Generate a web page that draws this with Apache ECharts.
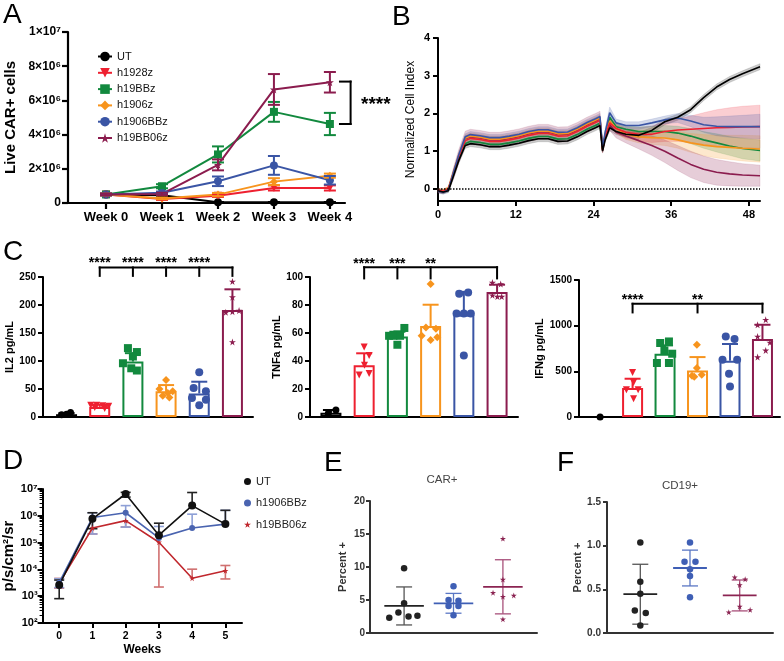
<!DOCTYPE html>
<html>
<head>
<meta charset="utf-8">
<title>CAR T cell figure</title>
<script src="https://cdn.jsdelivr.net/npm/echarts@6/dist/echarts.min.js"></script>
<style>
  html, body { margin: 0; background: #fff; }
  #fig { width: 784px; height: 661px; }
</style>
</head>
<body>
<div id="fig"></div>
<script>
const FONT = '"Liberation Sans", Arial, sans-serif';
const STAR = 'path://M50,0 L61,35 L98,35 L68,57 L79,91 L50,70 L21,91 L32,57 L2,35 L39,35 Z';

// groups (A, B, C)
const groupNames = ['UT', 'h1928z', 'h19BBz', 'h1906z', 'h1906BBz', 'h19BB06z'];
const groupColors = ['#000000', '#ee2030', '#12893e', '#f7941d', '#3a55a5', '#8b1c4e'];
const groupSymbols = ['circle', 'triangle', 'rect', 'diamond', 'circle', STAR];
const groupRotate = [0, 180, 0, 0, 0, 0];

// A: live CAR+ cells per week
const weeksA = [0, 1, 2, 3, 4];
const weekLabelsA = ['Week 0', 'Week 1', 'Week 2', 'Week 3', 'Week 4'];
const liveUT = [0.5e6, 0.45e6, 0.04e6, 0.04e6, 0.04e6];
const live1928z = [0.5e6, 0.23e6, 0.43e6, 0.88e6, 0.88e6];
const live19BBz = [0.5e6, 0.98e6, 2.84e6, 5.33e6, 4.62e6];
const live1906z = [0.5e6, 0.27e6, 0.49e6, 1.25e6, 1.6e6];
const live1906BBz = [0.5e6, 0.6e6, 1.27e6, 2.2e6, 1.33e6];
const live19BB06z = [0.5e6, 0.53e6, 2.23e6, 6.64e6, 7.06e6];
const sdUT = [0.03e6, 0.03e6, 0.02e6, 0.02e6, 0.02e6];
const sd1928z = [0.05e6, 0.05e6, 0.08e6, 0.15e6, 0.15e6];
const sd19BBz = [0.05e6, 0.12e6, 0.47e6, 0.58e6, 0.65e6];
const sd1906z = [0.05e6, 0.05e6, 0.1e6, 0.2e6, 0.12e6];
const sd1906BBz = [0.05e6, 0.07e6, 0.28e6, 0.55e6, 0.25e6];
const sd19BB06z = [0.05e6, 0.07e6, 0.32e6, 0.9e6, 0.6e6];
const liveMeans = [liveUT, live1928z, live19BBz, live1906z, live1906BBz, live19BB06z];
const liveSds = [sdUT, sd1928z, sd19BBz, sd1906z, sd1906BBz, sd19BB06z];

// B: normalized cell index over time (hours)
const hoursB = [0, 0.8, 1.6, 2.4, 3.2, 4.2, 5, 6.5, 8, 9.5, 11, 12.5, 14, 15.5, 17, 18.5, 20, 21.5, 23, 24.3, 25, 25.4, 25.8, 26.5, 27.5, 29, 31, 33, 35, 37, 39, 41, 43, 45, 47, 49.7];
const ciUT = [-0.05, -0.08, -0.05, 0.35, 0.75, 1.15, 1.2, 1.17, 1.12, 1.12, 1.16, 1.21, 1.28, 1.33, 1.33, 1.26, 1.27, 1.38, 1.52, 1.62, 1.68, 1.0, 1.3, 1.62, 1.52, 1.45, 1.42, 1.55, 1.78, 1.9, 2.1, 2.42, 2.7, 2.9, 3.05, 3.24];
const ci1928z = [-0.03, -0.06, 0, 0.42, 0.85, 1.28, 1.34, 1.31, 1.26, 1.26, 1.3, 1.35, 1.42, 1.47, 1.47, 1.4, 1.41, 1.52, 1.66, 1.76, 1.82, 1.02, 1.38, 1.75, 1.6, 1.5, 1.45, 1.45, 1.52, 1.56, 1.58, 1.6, 1.62, 1.63, 1.64, 1.65];
const ci19BBz = [-0.04, -0.07, -0.02, 0.4, 0.8, 1.2, 1.26, 1.23, 1.18, 1.18, 1.22, 1.27, 1.34, 1.39, 1.39, 1.32, 1.33, 1.44, 1.58, 1.68, 1.74, 1.05, 1.4, 1.9, 1.65, 1.58, 1.52, 1.52, 1.52, 1.48, 1.4, 1.3, 1.22, 1.14, 1.07, 1.02];
const ci1906z = [-0.04, -0.05, 0.02, 0.45, 0.88, 1.34, 1.4, 1.37, 1.32, 1.32, 1.36, 1.41, 1.48, 1.53, 1.53, 1.46, 1.47, 1.58, 1.72, 1.82, 1.88, 1.05, 1.42, 1.8, 1.6, 1.45, 1.38, 1.36, 1.35, 1.3, 1.22, 1.16, 1.12, 1.1, 1.08, 1.06];
const ci1906BBz = [-0.06, -0.09, -0.03, 0.44, 0.9, 1.38, 1.44, 1.41, 1.36, 1.36, 1.4, 1.45, 1.52, 1.57, 1.57, 1.5, 1.51, 1.62, 1.76, 1.86, 1.92, 1.1, 1.5, 2.02, 1.75, 1.68, 1.68, 1.75, 1.83, 1.88, 1.8, 1.7, 1.66, 1.65, 1.65, 1.65];
const ci19BB06z = [-0.05, -0.07, -0.01, 0.42, 0.86, 1.33, 1.38, 1.35, 1.3, 1.3, 1.34, 1.39, 1.46, 1.51, 1.51, 1.44, 1.45, 1.56, 1.7, 1.8, 1.86, 1.05, 1.4, 1.7, 1.5, 1.4, 1.28, 1.15, 1.0, 0.82, 0.65, 0.52, 0.44, 0.4, 0.37, 0.35];
const ciUTsd = [0.05, 0.05, 0.05, 0.08, 0.08, 0.08, 0.08, 0.08, 0.08, 0.08, 0.08, 0.08, 0.08, 0.08, 0.08, 0.08, 0.08, 0.08, 0.08, 0.08, 0.08, 0.05, 0.06, 0.08, 0.08, 0.08, 0.08, 0.08, 0.08, 0.08, 0.08, 0.08, 0.08, 0.08, 0.08, 0.08];
const ci1928zsd = [0.05, 0.05, 0.05, 0.08, 0.08, 0.08, 0.08, 0.08, 0.08, 0.08, 0.08, 0.08, 0.08, 0.08, 0.08, 0.08, 0.08, 0.08, 0.08, 0.08, 0.08, 0.06, 0.08, 0.1, 0.12, 0.15, 0.18, 0.22, 0.26, 0.3, 0.35, 0.42, 0.48, 0.52, 0.55, 0.57];
const ci19BBzsd = [0.05, 0.05, 0.05, 0.07, 0.07, 0.07, 0.07, 0.07, 0.07, 0.07, 0.07, 0.07, 0.07, 0.07, 0.07, 0.07, 0.07, 0.07, 0.07, 0.07, 0.07, 0.05, 0.08, 0.1, 0.1, 0.1, 0.12, 0.14, 0.16, 0.18, 0.2, 0.22, 0.24, 0.25, 0.27, 0.28];
const ci1906zsd = [0.05, 0.05, 0.05, 0.08, 0.08, 0.08, 0.08, 0.08, 0.08, 0.08, 0.08, 0.08, 0.08, 0.08, 0.08, 0.08, 0.08, 0.08, 0.08, 0.08, 0.08, 0.05, 0.08, 0.1, 0.12, 0.14, 0.16, 0.18, 0.2, 0.22, 0.25, 0.28, 0.3, 0.32, 0.34, 0.35];
const ci1906BBzsd = [0.05, 0.05, 0.05, 0.08, 0.08, 0.08, 0.08, 0.08, 0.08, 0.08, 0.08, 0.08, 0.08, 0.08, 0.08, 0.08, 0.08, 0.08, 0.08, 0.08, 0.08, 0.05, 0.1, 0.15, 0.1, 0.1, 0.1, 0.1, 0.1, 0.12, 0.15, 0.2, 0.25, 0.28, 0.3, 0.33];
const ci19BB06zsd = [0.05, 0.05, 0.05, 0.15, 0.18, 0.2, 0.2, 0.2, 0.2, 0.2, 0.2, 0.2, 0.2, 0.2, 0.2, 0.2, 0.2, 0.2, 0.2, 0.2, 0.2, 0.08, 0.12, 0.15, 0.15, 0.18, 0.22, 0.26, 0.3, 0.33, 0.35, 0.35, 0.34, 0.32, 0.3, 0.28];
const ciMeans = [ciUT, ci1928z, ci19BBz, ci1906z, ci1906BBz, ci19BB06z];
const ciSds = [ciUTsd, ci1928zsd, ci19BBzsd, ci1906zsd, ci1906BBzsd, ci19BB06zsd];
const hourTicksB = [0, 12, 24, 36, 48];

// C: cytokines (bars = mean, points = replicates, offsets = jitter)
const il2Mean = [5, 18, 99, 46, 42, 191];
const il2Sd = [2, 4, 15, 11, 21, 37];
const il2Pts = [[4, 5, 8], [21, 21, 20, 19, 17, 15], [123, 116, 108, 96, 87, 83], [66, 50, 46, 43, 38, 35], [80, 52, 46, 34, 31, 21], [242, 214, 190, 188, 187, 134]];
const il2Off = [[-0.15, 0, 0.12], [-0.27, -0.09, 0.09, 0.27, -0.15, 0.15], [-0.15, 0.12, 0, -0.3, -0.05, 0.12], [0, -0.2, 0.2, 0.05, -0.1, 0.1], [0, -0.17, 0.2, -0.22, 0.2, 0], [0, 0, 0.2, 0, -0.2, 0]];
const tnfMean = [3, 37, 57.5, 65, 73, 89.3];
const tnfSd = [2, 8.5, 3.4, 15.2, 16.4, 5.2];
const tnfPts = [[2.5, 5], [50, 44, 37, 30, 31], [63.6, 59, 58, 58, 58, 51.6], [95, 64, 63, 58, 55, 57], [88, 89, 74, 74, 74, 44], [96, 95, 87, 86, 86]];
const tnfOff = [[-0.08, 0.15], [0, 0.15, 0.01, -0.15, 0.15], [0.21, 0, -0.25, -0.12, 0.08, 0], [0, -0.14, 0.16, -0.27, 0, 0.2], [-0.14, 0.13, -0.22, 0, 0.21, 0], [-0.14, 0.11, -0.14, 0.01, 0.14]];
const ifnMean = [0, 317, 693, 510, 616, 853];
const ifnSd = [0, 102, 91, 146, 183, 157];
const ifnPts = [[0], [488, 379, 299, 299, 200], [810, 827, 729, 693, 591, 591], [791, 536, 452, 463, 440], [882, 853, 627, 627, 474, 335], [1065, 1010, 882, 816, 729, 656]];
const ifnOff = [[0], [0, 0.03, -0.19, 0.17, 0.03], [-0.15, 0.12, -0.02, 0.22, -0.25, 0.12], [-0.02, -0.02, -0.17, 0.13, -0.1], [-0.13, 0.14, -0.23, 0.22, -0.03, 0], [0.1, -0.15, -0.15, 0.23, 0.1, -0.15]];

// D: bioluminescence (log)
const dNames = ['UT', 'h1906BBz', 'h19BB06z'];
const dColors = ['#111111', '#4a64b0', '#c0272d'];
const dErrColors = ['#222222', '#8ea0d6', '#d07070'];
const weeksD = [0, 1, 2, 3, 4, 5];
const fluxUT = [2.6e3, 7.7e5, 6.5e6, 1.9e5, 2.4e6, 4.9e5];
const fluxUTlo = [8.1e2, 3.3e5, 5.0e6, 1.9e5, 2.4e6, 4.9e5];
const fluxUThi = [4.0e3, 1.3e6, 7.5e6, 5.3e5, 7.4e6, 1.6e6];
const flux1906BBz = [3.2e3, 8.6e5, 1.3e6, 1.5e5, 3.5e5, 4.9e5];
const flux1906BBzlo = [2.1e3, 2.1e5, 3.8e5, 1.5e5, 3.5e5, 4.9e5];
const flux1906BBzhi = [4.5e3, 1.3e6, 2.4e6, 4.0e5, 1.15e6, 1.6e6];
const flux19BB06z = [3.0e3, 3.5e5, 6.6e5, 1.03e5, 4.7e3, 8.9e3];
const flux19BB06zlo = [2.0e3, 2.1e5, 3.8e5, 2.2e3, 4.7e3, 4.4e3];
const flux19BB06zhi = [4.6e3, 3.5e5, 6.6e5, 1.03e5, 1.02e4, 1.4e4];

// E / F: percent positive
const efColors = ['#222222', '#3f5fb5', '#8b2452'];
const efErrColors = ['#555555', '#5a77c4', '#a8507a'];
const efSymbols = ['circle', 'circle', STAR];
const carPts = [[9.8, 4.5, 3.1, 2.5, 2.6, 2.3], [7.1, 5.0, 4.9, 4.1, 4.1, 2.7], [14.3, 8.1, 6.1, 5.5, 5.7, 2.1]];
const carOff = [[0, 0, -0.115, 0.09, 0.27, -0.3], [0, -0.1, 0.1, -0.1, 0.1, 0], [0, 0, -0.2, 0, 0.22, 0]];
const carMean = [4.1, 4.5, 7.0];
const carSd = [2.88, 1.5, 4.1];
const cd19Pts = [[1.036, 0.588, 0.448, 0.257, 0.228, 0.087], [1.036, 0.816, 0.816, 0.729, 0.653, 0.41], [0.638, 0.616, 0.55, 0.303, 0.239, 0.265]];
const cd19Off = [[0, 0, 0, -0.11, 0.11, 0], [0, -0.11, 0.11, 0, 0, 0], [-0.1, 0.11, 0, 0, -0.22, 0.21]];
const cd19Mean = [0.444, 0.744, 0.43];
const cd19Sd = [0.343, 0.205, 0.177];

const SUP = '⁰¹²³⁴⁵⁶⁷⁸⁹';
function sup(n) { return String(n).split('').map(d => SUP[+d]).join(''); }

function makeAxis(grid, o) {
  const col = o.color || '#000';
  const w = o.width || 2;
  const ax = {
    gridIndex: grid,
    type: o.type || 'value',
    name: o.name || '',
    nameLocation: 'middle',
    nameGap: o.nameGap || 20,
    nameTextStyle: Object.assign({ color: col, fontFamily: FONT, fontWeight: 'bold', fontSize: 12 }, o.nameStyle || {}),
    axisLine: { show: true, onZero: false, lineStyle: { color: col, width: w } },
    axisTick: { show: o.ticks !== false, length: o.tickLen || 5, lineStyle: { color: col, width: w } },
    minorTick: { show: false },
    axisLabel: { show: o.labels !== false, color: col, fontFamily: FONT, fontWeight: 'bold', fontSize: o.fontSize || 11, margin: o.margin || 6 },
    splitLine: { show: false }
  };
  if (o.min !== undefined) ax.min = o.min;
  if (o.max !== undefined) ax.max = o.max;
  if (o.interval !== undefined) ax.interval = o.interval;
  if (o.logBase) ax.logBase = o.logBase;
  if (o.formatter) ax.axisLabel.formatter = o.formatter;
  if (o.tickValues) { ax.axisLabel.customValues = o.tickValues; ax.axisTick.customValues = o.tickValues; }
  if (o.minor) ax.minorTick = { show: true, splitNumber: o.minor, length: 3, lineStyle: { color: col, width: 1 } };
  return ax;
}

// error bar / mean line drawer; rows: [x, mean, lo, hi]
function errSeries(grid, rows, colors, o) {
  return {
    type: 'custom', xAxisIndex: grid, yAxisIndex: grid, z: o.z || 4, silent: true, clip: false,
    data: rows,
    renderItem: function (p, api) {
      const x = api.value(0), m = api.value(1), lo = api.value(2), hi = api.value(3);
      const pm = api.coord([x, m]), pl = api.coord([x, lo]), ph = api.coord([x, hi]);
      const st = { stroke: colors[p.dataIndex], lineWidth: o.width || 2 };
      const kids = [];
      const cap = o.cap || 5;
      if (hi > m) {
        kids.push({ type: 'line', shape: { x1: pm[0], y1: pm[1], x2: ph[0], y2: ph[1] }, style: st });
        kids.push({ type: 'line', shape: { x1: ph[0] - cap, y1: ph[1], x2: ph[0] + cap, y2: ph[1] }, style: st });
      }
      if (lo < m) {
        kids.push({ type: 'line', shape: { x1: pm[0], y1: pm[1], x2: pl[0], y2: pl[1] }, style: st });
        kids.push({ type: 'line', shape: { x1: pl[0] - cap, y1: pl[1], x2: pl[0] + cap, y2: pl[1] }, style: st });
      }
      if (o.meanHalf) {
        const a = api.coord([x - o.meanHalf, m]), b = api.coord([x + o.meanHalf, m]);
        kids.push({ type: 'line', shape: { x1: a[0], y1: a[1], x2: b[0], y2: b[1] }, style: { stroke: o.meanColors[p.dataIndex], lineWidth: o.meanWidth || 2 } });
      }
      return { type: 'group', children: kids };
    }
  };
}

function segSeries(grid, segs) {
  return {
    type: 'custom', xAxisIndex: grid, yAxisIndex: grid, z: 6, silent: true, clip: false,
    data: segs,
    renderItem: function (p, api) {
      const a = api.coord([api.value(0), api.value(1)]);
      const b = api.coord([api.value(2), api.value(3)]);
      return { type: 'line', shape: { x1: a[0], y1: a[1], x2: b[0], y2: b[1] }, style: { stroke: '#000', lineWidth: 2, lineCap: 'square' } };
    }
  };
}

function textSeries(grid, pts, texts, size) {
  return {
    type: 'custom', xAxisIndex: grid, yAxisIndex: grid, z: 6, silent: true, clip: false,
    data: pts,
    renderItem: function (p, api) {
      const c = api.coord([api.value(0), api.value(1)]);
      return { type: 'text', x: c[0], y: c[1], style: { text: texts[p.dataIndex], align: 'center', verticalAlign: 'middle', font: 'bold ' + size + 'px ' + FONT, fill: '#000' } };
    }
  };
}

function bracket(grid, drops, top, bottom) {
  const segs = [[drops[0], top, drops[drops.length - 1], top]];
  drops.forEach(d => segs.push([d, top, d, bottom]));
  return segSeries(grid, segs);
}

function dotSeries(grid, gi, vals, offs, sym, color, size, rot) {
  return {
    type: 'scatter', xAxisIndex: grid, yAxisIndex: grid, z: 5, silent: true,
    symbol: sym, symbolSize: size, symbolRotate: rot || 0,
    itemStyle: { color: color, opacity: 1 },
    data: vals.map((v, k) => [gi + offs[k], v])
  };
}

function cytokinePanel(grid, means, sds, pts, offs, sizes) {
  const out = [];
  out.push({
    type: 'bar', xAxisIndex: grid, yAxisIndex: grid, barWidth: 21, z: 2, silent: true,
    data: means.map((v, i) => ({ value: [i, v], itemStyle: { color: '#ffffff', borderColor: groupColors[i], borderWidth: 2 } }))
  });
  out.push(errSeries(grid, means.map((v, i) => [i, v, v, v + sds[i]]), groupColors, { cap: 8, width: 2, z: 3 }));
  pts.forEach((vals, i) => {
    out.push(dotSeries(grid, i, vals, offs[i], groupSymbols[i], groupColors[i], sizes[i], groupRotate[i]));
  });
  return out;
}

const grids = [
  { left: 68, top: 32, width: 277, height: 171 },   // A
  { left: 438, top: 38, width: 322, height: 163 },  // B
  { left: 43, top: 277, width: 210, height: 140 },  // C IL2
  { left: 310, top: 277, width: 208, height: 140 }, // C TNFa
  { left: 579, top: 280, width: 201, height: 137 }, // C IFNg
  { left: 41, top: 489, width: 201, height: 134 },  // D
  { left: 370, top: 501, width: 167, height: 132 }, // E
  { left: 607, top: 502, width: 166, height: 131 }  // F
];

const xAxes = [
  makeAxis(0, { min: -0.68, max: 4.27, tickValues: weeksA, formatter: v => weekLabelsA[v], fontSize: 13, tickLen: 6, width: 2.2, margin: 8 }),
  makeAxis(1, { min: 0, max: 49.7, tickValues: hourTicksB, margin: 8 }),
  makeAxis(2, { min: -0.71, max: 5.62, ticks: false, labels: false }),
  makeAxis(3, { min: -0.63, max: 5.63, ticks: false, labels: false }),
  makeAxis(4, { min: -0.65, max: 5.54, ticks: false, labels: false }),
  makeAxis(5, { min: -0.5, max: 5.5, tickValues: weeksD, name: 'Weeks', nameGap: 21, nameStyle: { fontSize: 12 }, fontSize: 10.5, margin: 8 }),
  makeAxis(6, { min: -0.69, max: 2.69, ticks: false, labels: false, color: '#333' }),
  makeAxis(7, { min: -0.67, max: 2.67, ticks: false, labels: false, color: '#333' })
];

const yAxes = [
  makeAxis(0, {
    min: 0, max: 1e7, interval: 2e6, tickLen: 6, width: 2.2, fontSize: 12, margin: 7,
    name: 'Live CAR+ cells', nameGap: 50, nameStyle: { fontSize: 15 },
    formatter: v => v === 0 ? '0' : (v >= 1e7 ? '1×10' + sup(7) : (v / 1e6) + '×10' + sup(6))
  }),
  makeAxis(1, {
    min: -0.32, max: 4, tickValues: [0, 1, 2, 3, 4], margin: 8,
    name: 'Normalized Cell Index', nameGap: 21, nameStyle: { fontWeight: 'normal', fontSize: 12 }
  }),
  makeAxis(2, { min: 0, max: 250, interval: 50, fontSize: 10, margin: 7, name: 'IL2 pg/mL', nameGap: 21, nameStyle: { fontSize: 11 } }),
  makeAxis(3, { min: 0, max: 100, interval: 20, fontSize: 10, margin: 7, name: 'TNFa pg/mL', nameGap: 28, nameStyle: { fontSize: 11 } }),
  makeAxis(4, { min: 0, max: 1500, interval: 500, fontSize: 10, margin: 7, formatter: v => String(v), name: 'IFNg pg/mL', nameGap: 31, nameStyle: { fontSize: 11 } }),
  makeAxis(5, {
    type: 'log', logBase: 10, min: 100, max: 1e7, minor: 9, fontSize: 11, margin: 5,
    name: 'p/s/cm²/sr', nameGap: 20, nameStyle: { fontSize: 15 },
    formatter: v => '10' + sup(Math.round(Math.log10(v)))
  }),
  makeAxis(6, { min: 0, max: 20, interval: 5, color: '#333', tickLen: 4, fontSize: 10, margin: 5, name: 'Percent +', nameGap: 22, nameStyle: { fontSize: 11 } }),
  makeAxis(7, { min: 0, max: 1.5, interval: 0.5, color: '#333', tickLen: 4, fontSize: 10, margin: 6, formatter: v => v.toFixed(1), name: 'Percent +', nameGap: 24, nameStyle: { fontSize: 11 } })
];

const series = [];

// ---- A
groupNames.forEach((n, i) => {
  series.push({
    name: n, type: 'line', xAxisIndex: 0, yAxisIndex: 0, z: 3,
    symbol: groupSymbols[i], symbolSize: 8, symbolRotate: groupRotate[i],
    lineStyle: { width: 2, color: groupColors[i] }, itemStyle: { color: groupColors[i] },
    data: weeksA.map((w, k) => [w, liveMeans[i][k]])
  });
  series.push(errSeries(0, weeksA.map((w, k) => [w, liveMeans[i][k], liveMeans[i][k] - liveSds[i][k], liveMeans[i][k] + liveSds[i][k]]),
    weeksA.map(() => groupColors[i]), { cap: 6, width: 2 }));
});
series.push(segSeries(0, [[4.18, 7.1e6, 4.37, 7.1e6], [4.37, 7.1e6, 4.37, 4.62e6], [4.37, 4.62e6, 4.18, 4.62e6]]));
series.push(textSeries(0, [[4.82, 5.75e6]], ['****'], 19));

// ---- B: SD bands then mean lines
groupNames.forEach((n, i) => {
  const m = ciMeans[i], s = ciSds[i];
  series.push({
    type: 'custom', xAxisIndex: 1, yAxisIndex: 1, z: 1, silent: true,
    data: [[hoursB[0], m[0]]],
    renderItem: function (p, api) {
      const up = hoursB.map((t, k) => api.coord([t, m[k] + s[k]]));
      const lo = hoursB.map((t, k) => api.coord([t, m[k] - s[k]])).reverse();
      return {
        type: 'polygon', shape: { points: up.concat(lo) },
        style: { fill: groupColors[i], stroke: groupColors[i], lineWidth: 0.6, opacity: i === 0 ? 0.2 : 0.22 }
      };
    }
  });
});
[5, 2, 3, 1, 4, 0].forEach(i => {
  const line = {
    type: 'line', xAxisIndex: 1, yAxisIndex: 1, z: 2, silent: true,
    showSymbol: false, symbol: 'none',
    lineStyle: { width: 1.6, color: groupColors[i] },
    data: hoursB.map((t, k) => [t, ciMeans[i][k]])
  };
  if (i === 0) {
    line.markLine = {
      silent: true, symbol: ['none', 'none'], label: { show: false },
      lineStyle: { type: 'dotted', color: '#000', width: 1.5 },
      data: [{ yAxis: 0 }]
    };
  }
  series.push(line);
});

// ---- C
series.push(...cytokinePanel(2, il2Mean, il2Sd, il2Pts, il2Off, [7, 7, 8, 8, 8, 7]));
series.push(bracket(2, [1, 2, 3, 4, 5], 267, 252));
series.push(textSeries(2, [[1, 274], [2, 274], [3, 274], [4, 274]], ['****', '****', '****', '****'], 14));
series.push(...cytokinePanel(3, tnfMean, tnfSd, tnfPts, tnfOff, [7, 7, 8, 8, 8, 7]));
series.push(bracket(3, [1, 2, 3, 5], 107, 99));
series.push(textSeries(3, [[1, 109.5], [2, 109.5], [3, 109.5]], ['****', '***', '**'], 14));
series.push(...cytokinePanel(4, ifnMean, ifnSd, ifnPts, ifnOff, [7, 7, 8, 8, 8, 7]));
series.push(bracket(4, [1, 3, 5], 1240, 1145));
series.push(textSeries(4, [[1, 1282], [3, 1282]], ['****', '**'], 14));

// ---- D
const fluxMeans = [fluxUT, flux1906BBz, flux19BB06z];
const fluxLo = [fluxUTlo, flux1906BBzlo, flux19BB06zlo];
const fluxHi = [fluxUThi, flux1906BBzhi, flux19BB06zhi];
const dSymbols = ['circle', 'circle', STAR];
const dSizes = [8, 6, 6];
[2, 1, 0].forEach(i => {
  series.push(errSeries(5, weeksD.map((w, k) => [w, fluxMeans[i][k], fluxLo[i][k], fluxHi[i][k]]),
    weeksD.map(() => dErrColors[i]), { cap: 5, width: 1.6, z: 3 }));
});
[2, 1, 0].forEach(i => {
  series.push({
    name: dNames[i], type: 'line', xAxisIndex: 5, yAxisIndex: 5, z: 4,
    symbol: dSymbols[i], symbolSize: dSizes[i],
    lineStyle: { width: 1.6, color: dColors[i] }, itemStyle: { color: dColors[i] },
    data: weeksD.map((w, k) => [w, fluxMeans[i][k]])
  });
});

// ---- E / F
[0, 1, 2].forEach(i => {
  series.push(dotSeries(6, i, carPts[i], carOff[i], efSymbols[i], efColors[i], i === 2 ? 6 : 6.5));
  series.push(dotSeries(7, i, cd19Pts[i], cd19Off[i], efSymbols[i], efColors[i], i === 2 ? 6 : 6.5));
});
series.push(errSeries(6, carMean.map((m, i) => [i, m, m - carSd[i], m + carSd[i]]), efErrColors,
  { cap: 8, width: 1.3, meanHalf: 0.4, meanColors: efColors, meanWidth: 1.8 }));
series.push(errSeries(7, cd19Mean.map((m, i) => [i, m, m - cd19Sd[i], m + cd19Sd[i]]), efErrColors,
  { cap: 8, width: 1.3, meanHalf: 0.34, meanColors: efColors, meanWidth: 1.8 }));

const letters = [['A', 3, 1], ['B', 392, 3], ['C', 3, 238], ['D', 3, 447], ['E', 324, 449], ['F', 557, 449]];

const option = {
  animation: false,
  backgroundColor: '#ffffff',
  textStyle: { fontFamily: FONT },
  grid: grids,
  xAxis: xAxes,
  yAxis: yAxes,
  legend: [
    {
      data: groupNames, left: 92, top: 46, orient: 'vertical', selectedMode: false,
      itemWidth: 14, itemHeight: 12, itemGap: 5.3,
      textStyle: { fontSize: 11, color: '#111', fontFamily: FONT }
    },
    {
      data: [
        { name: 'UT', icon: 'circle', itemStyle: { color: dColors[0] } },
        { name: 'h1906BBz', icon: 'circle', itemStyle: { color: dColors[1] } },
        { name: 'h19BB06z', icon: STAR, itemStyle: { color: dColors[2] } }
      ],
      left: 239, top: 471, orient: 'vertical', selectedMode: false,
      itemWidth: 7, itemHeight: 7, itemGap: 10.5,
      textStyle: { fontSize: 11, color: '#222', fontFamily: FONT }
    }
  ],
  graphic: letters.map(l => ({
    type: 'text', left: l[1], top: l[2],
    style: { text: l[0], font: '28px ' + FONT, fill: '#000' }
  })).concat([
    { type: 'text', x: 442, y: 480, style: { text: 'CAR+', align: 'center', verticalAlign: 'middle', font: '11.5px ' + FONT, fill: '#444' } },
    { type: 'text', x: 680, y: 486, style: { text: 'CD19+', align: 'center', verticalAlign: 'middle', font: '11.5px ' + FONT, fill: '#444' } }
  ]),
  series: series
};

const chart = echarts.init(document.getElementById('fig'), null, { renderer: 'canvas' });
chart.setOption(option);
</script>
</body>
</html>
